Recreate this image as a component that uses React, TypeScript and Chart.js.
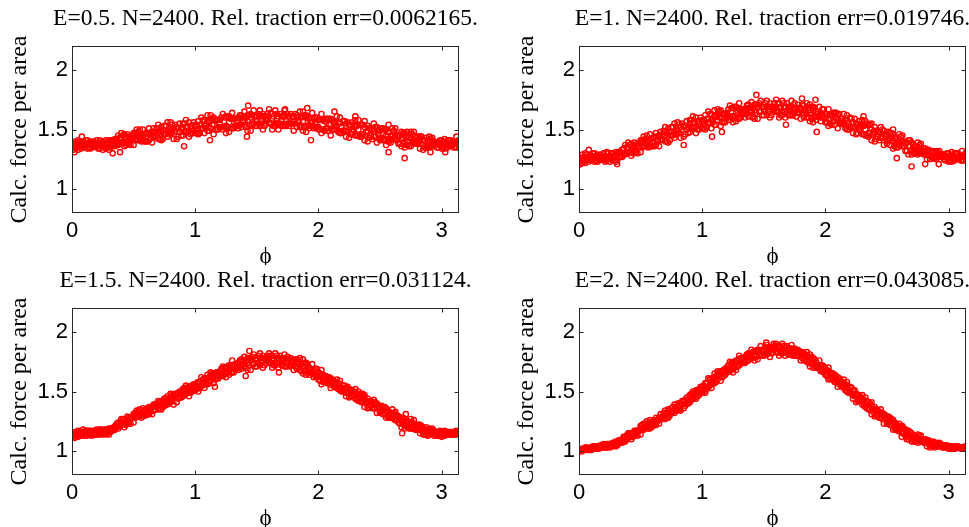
import React, { useEffect, useRef } from "react";
import { Chart, registerables } from "chart.js";

Chart.register(...registerables);

// ---------- data ----------
const PHI_A = [0,0.05,0.1,0.15,0.2,0.25,0.3,0.35,0.4,0.45, 0.5,0.55,0.6,0.65,0.7,0.75,0.8,0.85,0.9,0.95, 1,1.05,1.1,1.15,1.2,1.25,1.3,1.35,1.4,1.45, 1.5,1.55,1.6,1.65,1.7,1.75,1.8,1.85,1.9,1.95, 2,2.05,2.1,2.15,2.2,2.25,2.3,2.35,2.4,2.45, 2.5,2.55,2.6,2.65,2.7,2.75,2.8,2.85,2.9,2.95, 3,3.05,3.1];
const PHI_B = [0.025,0.075,0.125,0.175,0.225,0.275,0.325,0.375,0.425,0.475, 0.525,0.575,0.625,0.675,0.725,0.775,0.825,0.875,0.925,0.975, 1.025,1.075,1.125,1.175,1.225,1.275,1.325,1.375,1.425,1.475, 1.525,1.575,1.625,1.675,1.725,1.775,1.825,1.875,1.925,1.975, 2.025,2.075,2.125,2.175,2.225,2.275,2.325,2.375,2.425,2.475, 2.525,2.575,2.625,2.675,2.725,2.775,2.825,2.875,2.925,2.975, 3.025,3.075,3.125];
const PHI_C = [0.0125,0.0625,0.1125,0.1625,0.2125,0.2625,0.3125,0.3625,0.4125,0.4625, 0.5125,0.5625,0.6125,0.6625,0.7125,0.7625,0.8125,0.8625,0.9125,0.9625, 1.0125,1.0625,1.1125,1.1625,1.2125,1.2625,1.3125,1.3625,1.4125,1.4625, 1.5125,1.5625,1.6125,1.6625,1.7125,1.7625,1.8125,1.8625,1.9125,1.9625, 2.0125,2.0625,2.1125,2.1625,2.2125,2.2625,2.3125,2.3625,2.4125,2.4625, 2.5125,2.5625,2.6125,2.6625,2.7125,2.7625,2.8125,2.8625,2.9125,2.9625, 3.0125,3.0625,3.1125];
const PHI_D = [0.0375,0.0875,0.1375,0.1875,0.2375,0.2875,0.3375,0.3875,0.4375,0.4875, 0.5375,0.5875,0.6375,0.6875,0.7375,0.7875,0.8375,0.8875,0.9375,0.9875, 1.0375,1.0875,1.1375,1.1875,1.2375,1.2875,1.3375,1.3875,1.4375,1.4875, 1.5375,1.5875,1.6375,1.6875,1.7375,1.7875,1.8375,1.8875,1.9375,1.9875, 2.0375,2.0875,2.1375,2.1875,2.2375,2.2875,2.3375,2.3875,2.4375,2.4875, 2.5375,2.5875,2.6375,2.6875,2.7375,2.7875,2.8375,2.8875,2.9375,2.9875, 3.0375,3.0875,3.1375];

// Panel 1 (E=0.5)
const P1_AU = [1.39,1.41,1.39,1.40,1.41,1.39,1.41,1.42,1.47,1.46, 1.47,1.50,1.47,1.48,1.54,1.53,1.56,1.52,1.55,1.56, 1.54,1.60,1.62,1.60,1.58,1.61,1.64,1.60,1.65,1.63, 1.61,1.63,1.67,1.66,1.61,1.63,1.61,1.65,1.62,1.64, 1.58,1.57,1.59,1.61,1.57,1.54,1.58,1.54,1.53,1.55, 1.49,1.50,1.51,1.45,1.47,1.48,1.44,1.41,1.44,1.39, 1.41,1.41,1.39];
const P1_AM = [1.36,1.38,1.37,1.37,1.38,1.36,1.38,1.40,1.43,1.40, 1.45,1.44,1.43,1.48,1.47,1.46,1.49,1.51,1.52,1.49, 1.52,1.51,1.57,1.54,1.55,1.53,1.59,1.53,1.57,1.60, 1.58,1.61,1.56,1.55,1.58,1.61,1.57,1.54,1.60,1.56, 1.52,1.57,1.54,1.53,1.49,1.54,1.53,1.46,1.48,1.50, 1.43,1.45,1.44,1.45,1.40,1.43,1.40,1.37,1.39,1.39, 1.39,1.37,1.38];
const P1_AL = [1.35,1.33,1.35,1.34,1.36,1.33,1.33,1.36,1.39,1.38, 1.37,1.42,1.40,1.39,1.42,1.46,1.47,1.42,1.45,1.44, 1.47,1.51,1.49,1.46,1.52,1.47,1.51,1.51,1.54,1.49, 1.53,1.50,1.55,1.53,1.53,1.55,1.49,1.52,1.48,1.53, 1.50,1.49,1.45,1.50,1.49,1.43,1.45,1.44,1.40,1.44, 1.41,1.37,1.42,1.38,1.35,1.36,1.38,1.33,1.35,1.37, 1.34,1.35,1.35];
const P1_BU = [1.40,1.39,1.41,1.40,1.41,1.41,1.41,1.45,1.46,1.44, 1.50,1.50,1.51,1.48,1.52,1.56,1.51,1.55,1.58,1.53, 1.57,1.58,1.62,1.58,1.63,1.61,1.59,1.62,1.62,1.66, 1.66,1.61,1.63,1.61,1.66,1.63,1.62,1.65,1.59,1.60, 1.63,1.59,1.56,1.60,1.55,1.56,1.58,1.57,1.51,1.52, 1.51,1.48,1.51,1.48,1.44,1.48,1.44,1.43,1.43,1.39, 1.42,1.41,1.39];
const P1_BM = [1.38,1.36,1.38,1.38,1.36,1.38,1.41,1.38,1.39,1.42, 1.46,1.44,1.47,1.44,1.48,1.48,1.51,1.48,1.52,1.51, 1.50,1.53,1.57,1.58,1.52,1.56,1.53,1.60,1.57,1.55, 1.61,1.58,1.59,1.55,1.61,1.55,1.60,1.57,1.53,1.55, 1.58,1.51,1.53,1.55,1.49,1.50,1.50,1.52,1.45,1.50, 1.46,1.42,1.46,1.42,1.40,1.41,1.42,1.37,1.40,1.38, 1.37,1.38,1.39];
const P1_BL = [1.34,1.34,1.34,1.36,1.34,1.34,1.37,1.37,1.36,1.37, 1.42,1.41,1.41,1.45,1.41,1.44,1.42,1.48,1.49,1.47, 1.46,1.47,1.51,1.50,1.50,1.48,1.53,1.52,1.49,1.55, 1.53,1.55,1.50,1.50,1.53,1.55,1.52,1.49,1.51,1.52, 1.47,1.49,1.50,1.47,1.44,1.48,1.45,1.41,1.45,1.39, 1.41,1.40,1.42,1.36,1.37,1.39,1.34,1.35,1.36,1.35, 1.34,1.37,1.35];
const P1_C1 = [1.37,1.40,1.41,1.39,1.38,1.40,1.40,1.42,1.45,1.44, 1.47,1.46,1.47,1.51,1.49,1.53,1.54,1.51,1.55,1.53, 1.54,1.58,1.57,1.58,1.60,1.60,1.59,1.62,1.60,1.62, 1.63,1.61,1.64,1.63,1.61,1.61,1.63,1.60,1.61,1.59, 1.58,1.59,1.58,1.56,1.57,1.54,1.53,1.54,1.51,1.52, 1.51,1.48,1.49,1.45,1.44,1.46,1.44,1.41,1.42,1.39, 1.39,1.41,1.39];
const P1_C2 = [1.33,1.36,1.37,1.35,1.34,1.36,1.35,1.37,1.39,1.38, 1.41,1.40,1.40,1.44,1.42,1.46,1.47,1.44,1.48,1.46, 1.47,1.51,1.49,1.50,1.52,1.52,1.51,1.54,1.52,1.54, 1.55,1.53,1.55,1.55,1.53,1.53,1.55,1.52,1.53,1.51, 1.50,1.51,1.50,1.48,1.49,1.46,1.45,1.46,1.43,1.44, 1.43,1.40,1.42,1.38,1.37,1.39,1.38,1.35,1.36,1.35, 1.35,1.37,1.35];
const P1_D1 = [1.36,1.40,1.39,1.38,1.40,1.38,1.41,1.43,1.44,1.42, 1.48,1.46,1.46,1.51,1.50,1.50,1.54,1.50,1.52,1.56, 1.54,1.53,1.59,1.58,1.60,1.59,1.56,1.60,1.62,1.61, 1.58,1.63,1.61,1.63,1.58,1.61,1.60,1.62,1.56,1.60, 1.58,1.59,1.56,1.52,1.56,1.53,1.54,1.48,1.50,1.49, 1.50,1.44,1.45,1.47,1.43,1.40,1.44,1.41,1.40,1.41, 1.38,1.39,1.41];
const P1_D2 = [1.35,1.37,1.35,1.36,1.37,1.35,1.37,1.38,1.37,1.43, 1.41,1.40,1.43,1.46,1.42,1.46,1.49,1.45,1.48,1.49, 1.47,1.51,1.54,1.50,1.52,1.51,1.53,1.57,1.54,1.53, 1.55,1.58,1.53,1.55,1.53,1.55,1.57,1.52,1.53,1.52, 1.50,1.54,1.50,1.47,1.48,1.50,1.44,1.45,1.42,1.46, 1.42,1.39,1.41,1.42,1.36,1.38,1.38,1.35,1.38,1.37, 1.35,1.37,1.38];
const P1_OUT_X = [0.02,0.08,0.33,0.39,0.91,1.12,1.42,1.43,1.73,1.91,1.94,2.13,2.30,2.57,2.57,2.70,2.72,2.91,3.03,3.12];
const P1_OUT_Y = [1.31,1.44,1.30,1.31,1.36,1.41,1.44,1.70,1.67,1.68,1.41,1.65,1.61,1.31,1.54,1.26,1.48,1.31,1.31,1.44];

// Panel 2 (E=1)
const P2_AU = [1.27,1.30,1.28,1.29,1.30,1.28,1.31,1.33,1.39,1.39, 1.41,1.45,1.43,1.45,1.52,1.52,1.56,1.53,1.58,1.60, 1.58,1.65,1.66,1.66,1.64,1.68,1.72,1.67,1.73,1.71, 1.69,1.72,1.75,1.74,1.69,1.72,1.68,1.72,1.69,1.69, 1.63,1.62,1.63,1.63,1.60,1.55,1.58,1.54,1.52,1.52, 1.45,1.46,1.46,1.39,1.39,1.39,1.34,1.32,1.32,1.29, 1.30,1.30,1.28];
const P2_AM = [1.24,1.27,1.26,1.26,1.27,1.26,1.28,1.30,1.35,1.33, 1.39,1.39,1.39,1.45,1.45,1.45,1.49,1.53,1.55,1.52, 1.56,1.56,1.61,1.60,1.62,1.61,1.67,1.63,1.66,1.69, 1.67,1.69,1.65,1.65,1.67,1.68,1.66,1.63,1.66,1.62, 1.59,1.62,1.58,1.56,1.52,1.55,1.53,1.47,1.47,1.47, 1.41,1.41,1.39,1.39,1.33,1.35,1.31,1.28,1.28,1.29, 1.28,1.26,1.27];
const P2_AL = [1.23,1.22,1.24,1.23,1.25,1.23,1.23,1.27,1.31,1.31, 1.31,1.37,1.36,1.36,1.40,1.45,1.47,1.44,1.48,1.47, 1.51,1.55,1.54,1.53,1.60,1.56,1.59,1.60,1.64,1.59, 1.62,1.60,1.65,1.62,1.62,1.64,1.59,1.60,1.56,1.60, 1.56,1.54,1.51,1.54,1.52,1.46,1.46,1.44,1.40,1.43, 1.38,1.34,1.37,1.32,1.29,1.29,1.29,1.25,1.25,1.27, 1.23,1.24,1.24];
const P2_BU = [1.29,1.27,1.30,1.29,1.31,1.30,1.31,1.37,1.38,1.38, 1.44,1.46,1.47,1.46,1.51,1.55,1.52,1.57,1.61,1.57, 1.62,1.63,1.67,1.63,1.70,1.69,1.67,1.71,1.71,1.74, 1.74,1.69,1.72,1.69,1.74,1.71,1.70,1.71,1.65,1.67, 1.67,1.64,1.59,1.62,1.56,1.57,1.57,1.55,1.48,1.49, 1.47,1.42,1.45,1.41,1.36,1.38,1.33,1.32,1.32,1.28, 1.31,1.30,1.28];
const P2_BM = [1.26,1.25,1.27,1.27,1.25,1.28,1.31,1.30,1.32,1.36, 1.40,1.40,1.44,1.42,1.46,1.48,1.52,1.50,1.56,1.55, 1.55,1.58,1.62,1.63,1.61,1.64,1.63,1.68,1.66,1.65, 1.69,1.67,1.68,1.65,1.69,1.64,1.67,1.64,1.61,1.62, 1.62,1.57,1.57,1.57,1.52,1.52,1.50,1.50,1.44,1.46, 1.42,1.38,1.40,1.36,1.32,1.32,1.32,1.27,1.29,1.27, 1.26,1.27,1.28];
const P2_BL = [1.22,1.23,1.23,1.25,1.24,1.24,1.27,1.29,1.28,1.30, 1.36,1.36,1.37,1.42,1.39,1.43,1.43,1.50,1.52,1.50, 1.50,1.51,1.58,1.56,1.58,1.57,1.63,1.61,1.59,1.65, 1.62,1.65,1.60,1.60,1.62,1.64,1.60,1.57,1.58,1.60, 1.53,1.54,1.55,1.50,1.47,1.50,1.45,1.41,1.44,1.37, 1.37,1.35,1.36,1.29,1.30,1.30,1.25,1.26,1.27,1.24, 1.23,1.26,1.24];
const P2_C1 = [1.25,1.29,1.30,1.27,1.27,1.30,1.30,1.34,1.37,1.37, 1.41,1.41,1.43,1.48,1.47,1.52,1.54,1.53,1.58,1.57, 1.58,1.63,1.61,1.63,1.67,1.69,1.67,1.70,1.68,1.72, 1.72,1.69,1.72,1.72,1.69,1.68,1.71,1.66,1.68,1.64, 1.63,1.64,1.63,1.58,1.59,1.54,1.53,1.54,1.49,1.50, 1.48,1.43,1.44,1.39,1.37,1.37,1.34,1.31,1.31,1.29, 1.28,1.30,1.28];
const P2_C2 = [1.21,1.25,1.26,1.24,1.23,1.26,1.25,1.29,1.31,1.31, 1.35,1.35,1.36,1.41,1.40,1.45,1.47,1.46,1.51,1.50, 1.51,1.56,1.54,1.56,1.60,1.61,1.60,1.63,1.61,1.65, 1.65,1.62,1.66,1.65,1.62,1.61,1.64,1.60,1.61,1.57, 1.56,1.57,1.56,1.51,1.52,1.47,1.46,1.47,1.42,1.43, 1.41,1.36,1.37,1.32,1.31,1.31,1.29,1.27,1.27,1.25, 1.24,1.26,1.24];
const P2_D1 = [1.25,1.29,1.28,1.27,1.30,1.28,1.31,1.35,1.36,1.36, 1.42,1.42,1.42,1.49,1.48,1.50,1.55,1.52,1.56,1.60, 1.59,1.58,1.65,1.63,1.68,1.66,1.65,1.68,1.71,1.69, 1.67,1.72,1.69,1.72,1.67,1.68,1.67,1.69,1.63,1.67, 1.62,1.64,1.59,1.55,1.59,1.54,1.55,1.48,1.48,1.46, 1.47,1.40,1.40,1.41,1.36,1.32,1.33,1.31,1.29,1.30, 1.27,1.28,1.30];
const P2_D2 = [1.24,1.26,1.24,1.25,1.26,1.24,1.27,1.30,1.30,1.36, 1.36,1.36,1.40,1.44,1.41,1.46,1.50,1.47,1.52,1.53, 1.52,1.56,1.60,1.56,1.61,1.59,1.63,1.66,1.64,1.62, 1.65,1.67,1.62,1.65,1.62,1.64,1.65,1.59,1.61,1.60, 1.55,1.59,1.55,1.50,1.52,1.52,1.45,1.46,1.41,1.44, 1.40,1.35,1.36,1.36,1.30,1.30,1.28,1.26,1.28,1.26, 1.24,1.26,1.27];
const P2_OUT_X = [0.01,0.06,0.08,0.31,0.85,1.08,1.16,1.41,1.44,1.68,1.81,1.92,1.93,2.31,2.55,2.58,2.70,2.81,2.92,3.11];
const P2_OUT_Y = [1.21,1.24,1.33,1.21,1.37,1.44,1.48,1.60,1.79,1.54,1.76,1.75,1.48,1.61,1.50,1.26,1.19,1.21,1.21,1.32];

// Panel 3 (E=1.5)
const P3_AU = [1.14,1.17,1.16,1.17,1.18,1.17,1.19,1.21,1.27,1.29, 1.31,1.35,1.35,1.37,1.42,1.44,1.48,1.48,1.52,1.54, 1.56,1.62,1.64,1.65,1.67,1.70,1.76,1.74,1.79,1.78, 1.78,1.80,1.82,1.82,1.78,1.79,1.76,1.78,1.74,1.73, 1.66,1.63,1.61,1.60,1.55,1.52,1.52,1.47,1.44,1.43, 1.37,1.36,1.35,1.29,1.27,1.27,1.22,1.19,1.19,1.16, 1.16,1.16,1.16];
const P3_AM = [1.13,1.15,1.14,1.16,1.16,1.15,1.17,1.20,1.24,1.25, 1.29,1.31,1.31,1.37,1.38,1.38,1.43,1.48,1.51,1.49, 1.54,1.55,1.61,1.62,1.65,1.65,1.72,1.70,1.73,1.76, 1.76,1.78,1.75,1.74,1.76,1.77,1.74,1.70,1.72,1.67, 1.62,1.63,1.58,1.55,1.51,1.52,1.49,1.42,1.41,1.40, 1.33,1.33,1.30,1.29,1.22,1.24,1.19,1.17,1.16,1.16, 1.15,1.14,1.15];
const P3_AL = [1.12,1.12,1.13,1.14,1.14,1.14,1.14,1.18,1.22,1.23, 1.24,1.30,1.30,1.31,1.35,1.38,1.41,1.41,1.46,1.46, 1.51,1.55,1.56,1.57,1.63,1.62,1.66,1.68,1.71,1.68, 1.71,1.70,1.74,1.72,1.72,1.73,1.68,1.68,1.64,1.65, 1.60,1.58,1.53,1.53,1.50,1.45,1.44,1.41,1.36,1.36, 1.32,1.28,1.28,1.24,1.19,1.19,1.18,1.14,1.14,1.14, 1.12,1.14,1.14];
const P3_BU = [1.16,1.16,1.17,1.17,1.18,1.18,1.19,1.24,1.27,1.28, 1.34,1.36,1.37,1.39,1.42,1.46,1.47,1.50,1.55,1.55, 1.58,1.61,1.66,1.66,1.71,1.72,1.73,1.77,1.78,1.81, 1.82,1.78,1.80,1.78,1.81,1.78,1.77,1.77,1.70,1.69, 1.68,1.62,1.59,1.59,1.53,1.51,1.50,1.47,1.42,1.40, 1.37,1.33,1.33,1.28,1.25,1.26,1.22,1.20,1.19,1.16, 1.17,1.16,1.16];
const P3_BM = [1.15,1.14,1.16,1.16,1.15,1.16,1.19,1.21,1.23,1.27, 1.31,1.32,1.36,1.35,1.39,1.42,1.46,1.45,1.52,1.53, 1.53,1.58,1.63,1.66,1.64,1.69,1.69,1.75,1.74,1.73, 1.78,1.76,1.76,1.74,1.77,1.72,1.75,1.71,1.66,1.65, 1.64,1.57,1.57,1.56,1.49,1.48,1.45,1.44,1.38,1.39, 1.34,1.29,1.30,1.25,1.21,1.21,1.20,1.16,1.17,1.15, 1.14,1.15,1.16];
const P3_BL = [1.13,1.14,1.13,1.14,1.14,1.14,1.17,1.19,1.20,1.23, 1.29,1.29,1.31,1.35,1.35,1.39,1.39,1.45,1.48,1.50, 1.50,1.53,1.59,1.61,1.63,1.64,1.69,1.69,1.68,1.73, 1.72,1.74,1.70,1.70,1.71,1.72,1.69,1.65,1.64,1.63, 1.56,1.57,1.55,1.51,1.46,1.46,1.42,1.37,1.38,1.32, 1.31,1.28,1.26,1.20,1.20,1.19,1.15,1.14,1.15,1.13, 1.13,1.14,1.14];
const P3_C1 = [1.14,1.16,1.17,1.16,1.17,1.18,1.19,1.23,1.27,1.28, 1.32,1.32,1.36,1.39,1.41,1.44,1.47,1.49,1.53,1.54, 1.57,1.60,1.62,1.65,1.69,1.71,1.72,1.76,1.76,1.79, 1.80,1.78,1.80,1.80,1.78,1.77,1.77,1.73,1.73,1.68, 1.65,1.63,1.60,1.57,1.55,1.51,1.48,1.46,1.42,1.41, 1.38,1.34,1.32,1.28,1.25,1.24,1.22,1.18,1.18,1.16, 1.16,1.16,1.16];
const P3_C2 = [1.12,1.14,1.14,1.13,1.14,1.15,1.16,1.20,1.23,1.24, 1.28,1.28,1.31,1.34,1.36,1.39,1.42,1.44,1.48,1.49, 1.52,1.55,1.57,1.60,1.64,1.66,1.66,1.70,1.70,1.73, 1.74,1.72,1.74,1.74,1.72,1.71,1.71,1.67,1.67,1.62, 1.59,1.58,1.55,1.52,1.50,1.46,1.43,1.41,1.37,1.36, 1.33,1.29,1.27,1.23,1.21,1.19,1.18,1.14,1.15,1.13, 1.13,1.14,1.14];
const P3_D1 = [1.14,1.16,1.17,1.16,1.18,1.17,1.20,1.24,1.26,1.28, 1.33,1.34,1.35,1.40,1.42,1.44,1.48,1.48,1.53,1.56, 1.58,1.59,1.65,1.66,1.70,1.71,1.71,1.75,1.78,1.77, 1.76,1.80,1.78,1.80,1.75,1.76,1.75,1.74,1.68,1.69, 1.64,1.62,1.58,1.53,1.54,1.50,1.48,1.42,1.41,1.38, 1.37,1.31,1.30,1.28,1.24,1.20,1.21,1.17,1.17,1.17, 1.15,1.16,1.16];
const P3_D2 = [1.13,1.15,1.14,1.14,1.16,1.15,1.18,1.21,1.22,1.28, 1.29,1.30,1.33,1.37,1.37,1.40,1.45,1.45,1.49,1.51, 1.53,1.57,1.62,1.61,1.65,1.66,1.69,1.73,1.72,1.71, 1.74,1.76,1.72,1.74,1.71,1.72,1.73,1.67,1.66,1.63, 1.58,1.59,1.54,1.50,1.49,1.48,1.42,1.40,1.36,1.36, 1.32,1.28,1.26,1.25,1.19,1.18,1.17,1.13,1.16,1.14, 1.14,1.14,1.15];
const P3_OUT_X = [0.02,0.07,0.09,1.16,1.41,1.44,1.68,2.36,2.68,2.71,2.94,3.12];
const P3_OUT_Y = [1.11,1.13,1.18,1.54,1.63,1.84,1.66,1.48,1.15,1.31,1.13,1.17];

// Panel 4 (E=2)
const P4_AU = [1.02,1.03,1.02,1.04,1.06,1.06,1.08,1.10,1.15,1.17, 1.21,1.25,1.25,1.28,1.34,1.36,1.40,1.42,1.47,1.51, 1.54,1.61,1.65,1.67,1.70,1.74,1.80,1.79,1.85,1.85, 1.85,1.87,1.90,1.90,1.86,1.86,1.83,1.83,1.78,1.76, 1.69,1.65,1.62,1.60,1.54,1.48,1.47,1.41,1.37,1.35, 1.28,1.26,1.23,1.18,1.15,1.14,1.10,1.07,1.07,1.05, 1.04,1.04,1.03];
const P4_AM = [1.01,1.02,1.02,1.03,1.05,1.04,1.06,1.09,1.13,1.14, 1.19,1.21,1.23,1.28,1.30,1.32,1.36,1.42,1.46,1.46, 1.52,1.54,1.62,1.64,1.68,1.69,1.77,1.75,1.80,1.84, 1.83,1.86,1.83,1.83,1.85,1.85,1.81,1.76,1.77,1.71, 1.65,1.65,1.59,1.55,1.49,1.48,1.44,1.36,1.34,1.32, 1.24,1.23,1.19,1.18,1.12,1.11,1.08,1.06,1.05,1.05, 1.04,1.02,1.03];
const P4_AL = [1.00,1.01,1.01,1.02,1.03,1.03,1.04,1.07,1.11,1.13, 1.14,1.20,1.21,1.23,1.27,1.32,1.34,1.36,1.41,1.44, 1.49,1.54,1.57,1.59,1.66,1.66,1.72,1.74,1.78,1.77, 1.80,1.79,1.83,1.82,1.81,1.81,1.76,1.75,1.70,1.69, 1.64,1.60,1.54,1.53,1.49,1.41,1.39,1.35,1.29,1.28, 1.23,1.18,1.17,1.13,1.08,1.07,1.07,1.03,1.04,1.03, 1.02,1.02,1.02];
const P4_BU = [1.02,1.02,1.04,1.05,1.06,1.07,1.09,1.12,1.15,1.17, 1.23,1.26,1.28,1.29,1.35,1.39,1.40,1.45,1.50,1.52, 1.57,1.61,1.67,1.68,1.75,1.76,1.78,1.82,1.84,1.88, 1.89,1.87,1.88,1.87,1.89,1.85,1.82,1.81,1.75,1.72, 1.70,1.64,1.59,1.58,1.51,1.47,1.45,1.41,1.34,1.31, 1.28,1.23,1.21,1.17,1.12,1.13,1.09,1.08,1.07,1.05, 1.04,1.04,1.03];
const P4_BM = [1.01,1.02,1.03,1.04,1.03,1.06,1.09,1.09,1.12,1.16, 1.20,1.23,1.26,1.27,1.32,1.35,1.40,1.40,1.48,1.50, 1.52,1.58,1.64,1.68,1.68,1.73,1.74,1.81,1.81,1.81, 1.86,1.85,1.85,1.83,1.86,1.80,1.81,1.76,1.71,1.69, 1.67,1.59,1.57,1.55,1.47,1.44,1.40,1.38,1.30,1.30, 1.25,1.19,1.19,1.14,1.10,1.09,1.08,1.05,1.06,1.04, 1.03,1.03,1.03];
const P4_BL = [1.00,1.01,1.02,1.03,1.03,1.04,1.07,1.08,1.10,1.13, 1.18,1.19,1.22,1.27,1.28,1.32,1.34,1.40,1.44,1.47, 1.49,1.53,1.60,1.63,1.67,1.68,1.74,1.76,1.76,1.81, 1.81,1.83,1.80,1.80,1.81,1.80,1.76,1.71,1.70,1.67, 1.60,1.58,1.55,1.50,1.44,1.42,1.37,1.31,1.30,1.23, 1.22,1.18,1.15,1.10,1.08,1.08,1.04,1.04,1.04,1.03, 1.02,1.03,1.02];
const P4_C1 = [1.01,1.03,1.04,1.04,1.05,1.06,1.08,1.12,1.15,1.17, 1.22,1.23,1.26,1.31,1.32,1.37,1.40,1.43,1.48,1.51, 1.55,1.60,1.63,1.67,1.72,1.75,1.78,1.81,1.83,1.85, 1.87,1.87,1.88,1.88,1.86,1.85,1.83,1.79,1.77,1.72, 1.68,1.65,1.61,1.56,1.53,1.47,1.43,1.40,1.35,1.32, 1.29,1.24,1.21,1.17,1.13,1.13,1.10,1.07,1.06,1.05, 1.04,1.04,1.03];
const P4_C2 = [1.00,1.02,1.03,1.02,1.03,1.04,1.05,1.09,1.12,1.14, 1.18,1.19,1.22,1.27,1.28,1.33,1.35,1.38,1.43,1.46, 1.50,1.55,1.58,1.62,1.67,1.70,1.73,1.76,1.78,1.80, 1.82,1.82,1.83,1.83,1.81,1.80,1.78,1.74,1.72,1.67, 1.63,1.60,1.56,1.51,1.48,1.42,1.38,1.35,1.30,1.27, 1.24,1.19,1.16,1.12,1.09,1.09,1.07,1.04,1.04,1.03, 1.02,1.03,1.02];
const P4_D1 = [1.02,1.03,1.03,1.04,1.06,1.06,1.09,1.13,1.15,1.17, 1.23,1.24,1.26,1.32,1.34,1.37,1.42,1.43,1.49,1.54, 1.57,1.59,1.66,1.69,1.74,1.76,1.77,1.81,1.84,1.85, 1.84,1.88,1.87,1.88,1.83,1.84,1.81,1.79,1.72,1.71, 1.66,1.63,1.58,1.52,1.51,1.45,1.42,1.35,1.33,1.30, 1.27,1.20,1.19,1.16,1.12,1.09,1.09,1.06,1.06,1.05, 1.03,1.03,1.04];
const P4_D2 = [1.01,1.02,1.02,1.03,1.05,1.05,1.07,1.10,1.12,1.17, 1.19,1.20,1.25,1.29,1.30,1.35,1.39,1.40,1.45,1.49, 1.52,1.57,1.63,1.64,1.69,1.71,1.75,1.79,1.79,1.80, 1.82,1.85,1.82,1.83,1.80,1.80,1.79,1.73,1.70,1.66, 1.61,1.60,1.54,1.49,1.46,1.43,1.36,1.33,1.28,1.28, 1.22,1.17,1.15,1.13,1.08,1.08,1.06,1.03,1.05,1.03, 1.02,1.03,1.03];
const P4_OUT_X = [0.00,0.09,1.52,1.58,2.62,2.66,3.09,3.13];
const P4_OUT_Y = [1.00,1.01,1.91,1.90,1.12,1.10,1.03,1.02];

const TITLES = [
  "E=0.5. N=2400. Rel. traction err=0.0062165.",
  "E=1. N=2400. Rel. traction err=0.019746.",
  "E=1.5. N=2400. Rel. traction err=0.031124.",
  "E=2. N=2400. Rel. traction err=0.043085.",
];
const Y_LABEL = "Calc. force per area";
const X_LABEL = "ϕ";
const X_TICKS = [0, 1, 2, 3];
const Y_TICKS = [1, 1.5, 2];
const X_MIN = 0;
const X_MAX = 3.1416;
const Y_MIN = 0.8;
const Y_MAX = 2.2;

const GRIDS = [PHI_A, PHI_A, PHI_A, PHI_B, PHI_B, PHI_B, PHI_C, PHI_C, PHI_D, PHI_D];
const PANEL_SERIES = [
  [P1_AU, P1_AM, P1_AL, P1_BU, P1_BM, P1_BL, P1_C1, P1_C2, P1_D1, P1_D2],
  [P2_AU, P2_AM, P2_AL, P2_BU, P2_BM, P2_BL, P2_C1, P2_C2, P2_D1, P2_D2],
  [P3_AU, P3_AM, P3_AL, P3_BU, P3_BM, P3_BL, P3_C1, P3_C2, P3_D1, P3_D2],
  [P4_AU, P4_AM, P4_AL, P4_BU, P4_BM, P4_BL, P4_C1, P4_C2, P4_D1, P4_D2],
];
const PANEL_OUT = [
  [P1_OUT_X, P1_OUT_Y],
  [P2_OUT_X, P2_OUT_Y],
  [P3_OUT_X, P3_OUT_Y],
  [P4_OUT_X, P4_OUT_Y],
];

// ---------- styling ----------
const SERIF = "'Liberation Serif', 'Times New Roman', serif";
const SANS = "'Liberation Sans', Arial, Helvetica, sans-serif";
const CW = 531;
const CH = 265;
const POS = [
  { left: 0, top: 0 },
  { left: 507, top: 0 },
  { left: 0, top: 262 },
  { left: 507, top: 262 },
];

const boxPlugin = {
  id: "matlabBox",
  afterDatasetsDraw(chart: any) {
    const { ctx, chartArea: a, scales } = chart;
    const xs = scales.x;
    const ys = scales.y;
    ctx.save();
    ctx.strokeStyle = "#262626";
    ctx.lineWidth = 1;
    const L = Math.round(a.left) + 0.5;
    const R = Math.round(a.right) - 0.5;
    const T = Math.round(a.top) + 0.5;
    const B = Math.round(a.bottom) - 0.5;
    ctx.strokeRect(L, T, R - L, B - T);
    const tl = 4;
    ctx.beginPath();
    X_TICKS.forEach((v) => {
      const px = Math.round(xs.getPixelForValue(v)) + 0.5;
      ctx.moveTo(px, B);
      ctx.lineTo(px, B - tl);
      ctx.moveTo(px, T);
      ctx.lineTo(px, T + tl);
    });
    Y_TICKS.forEach((v) => {
      const py = Math.round(ys.getPixelForValue(v)) + 0.5;
      ctx.moveTo(L, py);
      ctx.lineTo(L + tl, py);
      ctx.moveTo(R, py);
      ctx.lineTo(R - tl, py);
    });
    ctx.stroke();
    ctx.restore();
  },
};

function buildPoints(i: number) {
  const pts: { x: number; y: number }[] = [];
  PANEL_SERIES[i].forEach((ys, s) => {
    const xs = GRIDS[s];
    ys.forEach((y, k) => pts.push({ x: xs[k], y }));
  });
  const [ox, oy] = PANEL_OUT[i];
  ox.forEach((x, k) => pts.push({ x, y: oy[k] }));
  return pts;
}

function Panel({ index }: { index: number }) {
  const ref = useRef<HTMLCanvasElement | null>(null);
  useEffect(() => {
    if (!ref.current) return;
    const chart = new Chart(ref.current, {
      type: "scatter",
      data: {
        datasets: [
          {
            data: buildPoints(index),
            pointStyle: "circle",
            pointRadius: 2.6,
            pointBorderWidth: 1.4,
            borderColor: "rgb(255,0,0)",
            backgroundColor: "rgba(255,0,0,0)",
            pointBackgroundColor: "rgba(255,0,0,0)",
            pointBorderColor: "rgb(255,0,0)",
            showLine: false,
          },
        ],
      },
      options: {
        responsive: false,
        animation: false,
        devicePixelRatio: 1,
        events: [],
        layout: { padding: 0 },
        plugins: {
          legend: { display: false },
          tooltip: { enabled: false },
          title: {
            display: true,
            text: TITLES[index],
            color: "#000",
            font: { family: SERIF, size: 23.5, weight: "normal" },
            padding: { top: 5, bottom: 12.8 },
          },
        },
        scales: {
          x: {
            type: "linear",
            min: X_MIN,
            max: X_MAX,
            afterBuildTicks: (s: any) => {
              s.ticks = X_TICKS.map((v) => ({ value: v }));
            },
            afterFit: (s: any) => {
              s.height = CH - 213;
            },
            grid: { display: false, drawTicks: false },
            border: { display: false },
            ticks: {
              color: "#000",
              padding: 4.5,
              font: { family: SANS, size: 22 },
              maxRotation: 0,
              callback: (v: any) => String(v),
            },
            title: {
              display: true,
              text: X_LABEL,
              color: "#000",
              font: { family: SERIF, size: 23, lineHeight: 0.72 },
              padding: 0,
            },
          },
          y: {
            type: "linear",
            position: "left",
            min: Y_MIN,
            max: Y_MAX,
            afterBuildTicks: (s: any) => {
              s.ticks = Y_TICKS.map((v) => ({ value: v }));
            },
            afterFit: (s: any) => {
              s.width = 72;
            },
            grid: { display: false, drawTicks: false },
            border: { display: false },
            ticks: {
              color: "#000",
              padding: 4,
              font: { family: SANS, size: 22 },
              callback: (v: any) => String(v),
            },
            title: {
              display: true,
              text: Y_LABEL,
              color: "#000",
              font: { family: SERIF, size: 24 },
              padding: { top: 5.6, bottom: 0 },
            },
          },
          yRight: {
            type: "linear",
            position: "right",
            min: Y_MIN,
            max: Y_MAX,
            afterFit: (s: any) => {
              s.width = CW - 459;
            },
            grid: { display: false, drawTicks: false },
            border: { display: false },
            ticks: { display: false },
          },
        },
      },
      plugins: [boxPlugin],
    } as any);
    return () => chart.destroy();
  }, [index]);
  const p = POS[index];
  return (
    <canvas
      ref={ref}
      width={CW}
      height={CH}
      style={{ position: "absolute", left: p.left, top: p.top, width: CW, height: CH }}
    />
  );
}

export default function App() {
  return (
    <div
      style={{
        position: "fixed",
        left: 0,
        top: 0,
        width: 969,
        height: 527,
        overflow: "hidden",
        background: "#fff",
      }}
    >
      {[0, 1, 2, 3].map((i) => (
        <Panel key={i} index={i} />
      ))}
    </div>
  );
}
